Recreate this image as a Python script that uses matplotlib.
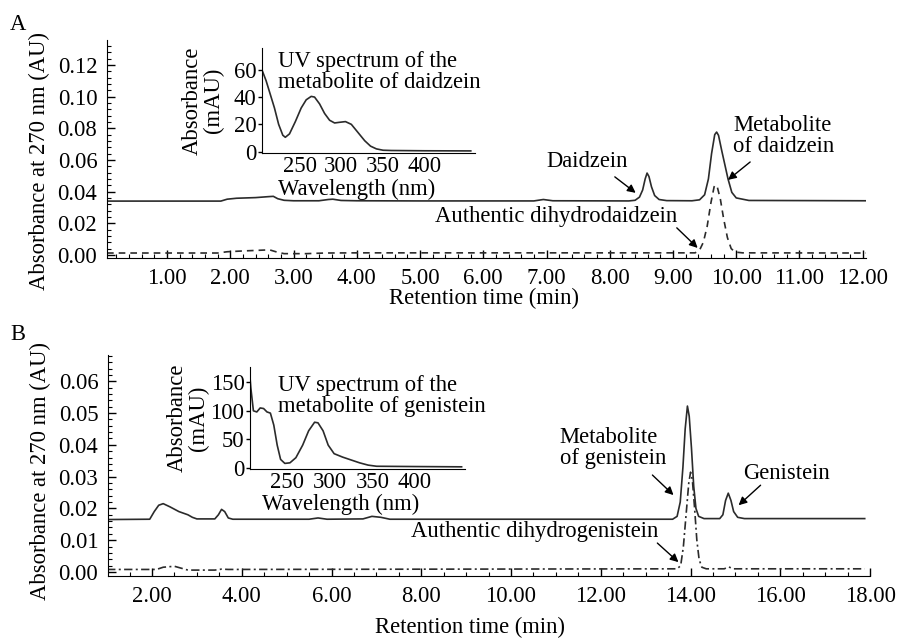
import numpy as np
import matplotlib
matplotlib.use('Agg')
import matplotlib.pyplot as plt
from matplotlib.ticker import MultipleLocator, FormatStrFormatter

plt.rcParams['font.family'] = ['Liberation Serif', 'DejaVu Serif']
plt.rcParams['font.size'] = 16.3
plt.rcParams['mathtext.fontset'] = 'stix'

LINE = '#2b2b2b'

# ---- panel A: chromatogram (min, AU) ----
a_sample_t = [0.05, 1.85, 1.95, 2.10, 2.40, 2.60, 2.68, 2.75, 2.85, 3.00, 3.40, 3.55, 3.62,
              3.75, 4.00, 5.00, 6.80, 6.95, 7.10, 8.30, 8.40, 8.47, 8.52, 8.56, 8.59, 8.62,
              8.66, 8.71, 8.78, 8.90, 9.30, 9.42, 9.50, 9.56, 9.61, 9.66, 9.69, 9.72, 9.77,
              9.82, 9.87, 9.93, 10.00, 10.20, 12.05]
a_sample_v = [0.0340, 0.0340, 0.0352, 0.0358, 0.0362, 0.0368, 0.0370, 0.0355, 0.0345, 0.0342,
              0.0342, 0.0350, 0.0352, 0.0344, 0.0342, 0.0341, 0.0341, 0.0350, 0.0342, 0.0341,
              0.0345, 0.0365, 0.0410, 0.0480, 0.0517, 0.0495, 0.0430, 0.0375, 0.0350, 0.0343,
              0.0342, 0.0348, 0.0380, 0.0480, 0.0640, 0.0760, 0.0776, 0.0755, 0.0660, 0.0570,
              0.0480, 0.0395, 0.0360, 0.0344, 0.0342]

a_std_t = [0.05, 1.80, 1.95, 2.20, 2.50, 2.62, 2.72, 2.85, 3.20, 3.50, 4.00, 9.35, 9.42, 9.48,
           9.54, 9.60, 9.65, 9.67, 9.70, 9.75, 9.80, 9.86, 9.92, 9.98, 10.10, 12.05]
a_std_v = [0.0012, 0.0012, 0.0020, 0.0025, 0.0030, 0.0032, 0.0020, 0.0008, 0.0008, 0.0012,
           0.0013, 0.0013, 0.0030, 0.0080, 0.0180, 0.0330, 0.0430, 0.0442, 0.0430, 0.0350,
           0.0230, 0.0110, 0.0040, 0.0018, 0.0013, 0.0012]

# ---- panel A inset: UV spectrum (nm, mAU) ----
a_uv_nm = [205, 210, 215, 220, 225, 230, 233, 238, 245, 252, 258, 264, 268, 274, 280, 286,
           292, 298, 305, 312, 320, 328, 335, 342, 350, 360, 400, 455]
a_uv_mau = [60, 52, 42, 32, 20, 12, 10.5, 13, 22, 32, 38, 40.5, 40, 35, 28, 23, 21, 21.5,
            22, 20, 14, 8, 4, 2, 1, 0.8, 0.6, 0.5]

# ---- panel B: chromatogram (min, AU) ----
b_sample_t = [1.00, 1.95, 2.05, 2.15, 2.25, 2.40, 2.60, 2.80, 2.90, 3.00, 3.40, 3.48, 3.55,
              3.62, 3.70, 3.80, 5.50, 5.70, 5.90, 6.70, 6.90, 7.10, 7.30, 13.60, 13.70, 13.77,
              13.83, 13.88, 13.93, 13.97, 14.02, 14.07, 14.12, 14.18, 14.30, 14.65, 14.72,
              14.78, 14.84, 14.90, 14.96, 15.05, 15.20, 17.88]
b_sample_v = [0.0165, 0.0166, 0.0190, 0.0210, 0.0215, 0.0205, 0.0190, 0.0180, 0.0172, 0.0167,
              0.0167, 0.0180, 0.0197, 0.0190, 0.0170, 0.0166, 0.0166, 0.0170, 0.0166, 0.0167,
              0.0175, 0.0172, 0.0166, 0.0166, 0.0175, 0.0220, 0.0330, 0.0450, 0.0522, 0.0490,
              0.0390, 0.0270, 0.0200, 0.0175, 0.0168, 0.0168, 0.0180, 0.0225, 0.0248, 0.0225,
              0.0190, 0.0172, 0.0168, 0.0168]

b_std_t = [1.00, 2.10, 2.25, 2.50, 2.65, 2.80, 3.40, 3.55, 3.70, 13.70, 13.78, 13.84, 13.90,
           13.96, 14.00, 14.04, 14.09, 14.14, 14.19, 14.25, 14.35, 14.75, 14.85, 14.95, 17.88]
b_std_v = [0.0008, 0.0008, 0.0015, 0.0018, 0.0012, 0.0006, 0.0006, 0.0009, 0.0008, 0.0010,
           0.0020, 0.0080, 0.0180, 0.0280, 0.0314, 0.0290, 0.0200, 0.0100, 0.0040, 0.0015,
           0.0010, 0.0010, 0.0016, 0.0010, 0.0010]

# ---- panel B inset: UV spectrum (nm, mAU) ----
b_uv_nm = [205, 207, 210, 214, 218, 222, 226, 230, 234, 238, 242, 247, 253, 260, 268, 275,
           282, 286, 292, 298, 305, 315, 325, 335, 345, 355, 400, 455]
b_uv_mau = [178, 140, 100, 98, 105, 104, 98, 96, 75, 40, 15, 8, 9, 18, 40, 65, 80, 79, 65,
            40, 25, 19, 14, 9, 5, 3, 2.5, 2]


def style_main(ax):
    for s in ['top', 'right']:
        ax.spines[s].set_visible(False)
    ax.tick_params(which='major', direction='in', length=6, width=1, pad=7)
    ax.tick_params(which='minor', direction='in', length=3, width=0.8)


def style_inset(ax):
    ax.set_facecolor('none')
    for s in ['top', 'right']:
        ax.spines[s].set_visible(False)
    ax.tick_params(axis='y', direction='out', length=3, width=1, pad=1)
    ax.tick_params(axis='x', direction='out', length=0, pad=2)


fig = plt.figure(figsize=(8.97, 6.40), dpi=100)

# ================= panel A =================
axA = fig.add_axes([0.1193, 0.597, 0.846, 0.3406])
axA.plot(a_sample_t, a_sample_v, color=LINE, lw=1.2)
axA.plot(a_std_t, a_std_v, color=LINE, lw=1.2, ls=(0, (4, 3)))
axA.set_xlim(0.05, 12.05)
axA.set_ylim(-0.0019, 0.1358)
axA.xaxis.set_major_locator(MultipleLocator(1))
axA.xaxis.set_minor_locator(MultipleLocator(0.2))
axA.yaxis.set_major_locator(MultipleLocator(0.02))
axA.yaxis.set_minor_locator(MultipleLocator(0.004))
axA.xaxis.set_major_formatter(FormatStrFormatter('%.2f'))
axA.yaxis.set_major_formatter(FormatStrFormatter('%.2f'))
axA.set_xticks(np.arange(1, 13, 1))
style_main(axA)
axA.set_ylabel('Absorbance at 270 nm (AU)')
axA.yaxis.set_label_coords(-0.075, 0.445)

arrow = dict(arrowstyle='-|>', color='black', lw=1.0, mutation_scale=12, shrinkA=0, shrinkB=0)
axA.text(7.64, 0.0587, 'Daidzein', ha='center', va='center')
axA.annotate('', xy=(8.41, 0.0392), xytext=(8.08, 0.0493), arrowprops=arrow)
axA.text(9.95, 0.0752, 'Metabolite\nof daidzein', ha='left', va='center', linespacing=1.0)
axA.annotate('', xy=(9.87, 0.0474), xytext=(10.22, 0.0587), arrowprops=arrow)
axA.text(9.06, 0.024, 'Authentic dihydrodaidzein', ha='right', va='center')
axA.annotate('', xy=(9.39, 0.0044), xytext=(9.06, 0.0171), arrowprops=arrow)

insA = fig.add_axes([0.292, 0.761, 0.2375, 0.164])
insA.plot(a_uv_nm, a_uv_mau, color=LINE, lw=1.2)
insA.set_xlim(205, 460)
insA.set_ylim(-1, 76)
insA.set_xticks([250, 300, 350, 400])
insA.set_yticks([0, 20, 40, 60])
style_inset(insA)
insA.text(-0.277, 0.5, 'Absorbance\n(mAU)', rotation=90, ha='center', va='center',
          transform=insA.transAxes, linespacing=1.0)
insA.text(0.446, -0.345, 'Wavelength (nm)', ha='center', va='center', transform=insA.transAxes)
insA.text(0.075, 0.77, 'UV spectrum of the\nmetabolite of daidzein', ha='left', va='center',
          transform=insA.transAxes, linespacing=1.0)

fig.text(484 / 897, 1 - 298 / 640, 'Retention time (min)', ha='center', va='center')
fig.text(18 / 897, 1 - 25 / 640, 'A', ha='center', va='center')

# ================= panel B =================
axB = fig.add_axes([0.1204, 0.1, 0.8496, 0.345])
axB.plot(b_sample_t, b_sample_v, color=LINE, lw=1.2)
axB.plot(b_std_t, b_std_v, color=LINE, lw=1.2, ls=(0, (5, 2, 1.2, 2)))
axB.set_xlim(1.02, 18.0)
axB.set_ylim(-0.00126, 0.0682)
axB.set_xticks(np.arange(2, 19, 2))
axB.xaxis.set_minor_locator(MultipleLocator(0.5))
axB.yaxis.set_major_locator(MultipleLocator(0.01))
axB.yaxis.set_minor_locator(MultipleLocator(0.002))
axB.xaxis.set_major_formatter(FormatStrFormatter('%.2f'))
axB.yaxis.set_major_formatter(FormatStrFormatter('%.2f'))
style_main(axB)
axB.set_ylabel('Absorbance at 270 nm (AU)')
axB.yaxis.set_label_coords(-0.075, 0.475)

axB.text(11.08, 0.039, 'Metabolite\nof genistein', ha='left', va='center', linespacing=1.0)
axB.annotate('', xy=(13.62, 0.0242), xytext=(13.15, 0.0305), arrowprops=arrow)
axB.text(15.16, 0.0311, 'Genistein', ha='left', va='center')
axB.annotate('', xy=(15.07, 0.0210), xytext=(15.56, 0.0273), arrowprops=arrow)
axB.text(13.28, 0.0126, 'Authentic dihydrogenistein', ha='right', va='center')
axB.annotate('', xy=(13.73, 0.0031), xytext=(13.26, 0.0091), arrowprops=arrow)

insB = fig.add_axes([0.2787, 0.267, 0.2397, 0.159])
insB.plot(b_uv_nm, b_uv_mau, color=LINE, lw=1.2)
insB.set_xlim(206, 459)
insB.set_ylim(-2, 176)
insB.set_xticks([250, 300, 350, 400])
insB.set_yticks([0, 50, 100, 150])
style_inset(insB)
insB.text(-0.29, 0.5, 'Absorbance\n(mAU)', rotation=90, ha='center', va='center',
          transform=insB.transAxes, linespacing=1.0)
insB.text(0.423, -0.35, 'Wavelength (nm)', ha='center', va='center', transform=insB.transAxes)
insB.text(0.13, 0.716, 'UV spectrum of the\nmetabolite of genistein', ha='left', va='center',
          transform=insB.transAxes, linespacing=1.0)

fig.text(470 / 897, 1 - 627 / 640, 'Retention time (min)', ha='center', va='center')
fig.text(18 / 897, 1 - 335 / 640, 'B', ha='center', va='center')

fig.savefig('out.png', dpi=100)
